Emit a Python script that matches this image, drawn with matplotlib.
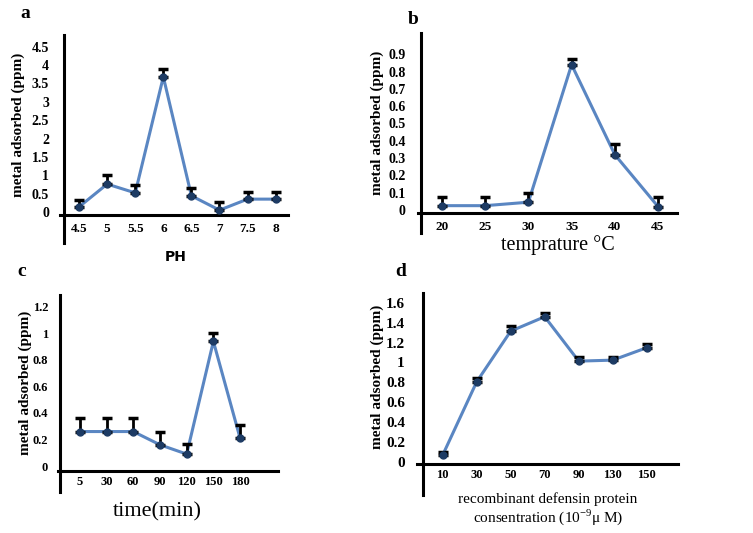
import matplotlib
matplotlib.use("Agg")
import matplotlib.pyplot as plt

plt.rcParams['font.family'] = 'Liberation Serif'
plt.rcParams['mathtext.fontset'] = 'custom'
plt.rcParams['mathtext.rm'] = 'Liberation Serif'

# panel a: pH
ph_labels = ["4.5", "5", "5.5", "6", "6.5", "7", "7.5", "8"]
ph_vals = [0.14, 0.76, 0.52, 3.68, 0.44, 0.05, 0.35, 0.35]
ph_err = [0.19, 0.25, 0.22, 0.22, 0.21, 0.22, 0.19, 0.19]
ph_yticks = [0, 0.5, 1, 1.5, 2, 2.5, 3, 3.5, 4, 4.5]
ph_ylabels = ["0", "0.5", "1", "1.5", "2", "2.5", "3", "3.5", "4", "4.5"]

# panel b: temperature
temp_x = [20, 25, 30, 35, 40, 45]
temp_vals = [0.025, 0.025, 0.045, 0.84, 0.32, 0.02]
temp_err = [0.05, 0.05, 0.055, 0.03, 0.06, 0.055]
temp_yticks = [0, 0.1, 0.2, 0.3, 0.4, 0.5, 0.6, 0.7, 0.8, 0.9]
temp_ylabels = ["0", "0.1", "0.2", "0.3", "0.4", "0.5", "0.6", "0.7", "0.8", "0.9"]

# panel c: time
time_labels = ["5", "30", "60", "90", "120", "150", "180"]
time_vals = [0.26, 0.26, 0.26, 0.16, 0.09, 0.94, 0.21]
time_err = [0.10, 0.10, 0.10, 0.10, 0.075, 0.06, 0.10]
time_yticks = [0, 0.2, 0.4, 0.6, 0.8, 1.0, 1.2]
time_ylabels = ["0", "0.2", "0.4", "0.6", "0.8", "1", "1.2"]

# panel d: protein concentration
conc_labels = ["10", "30", "50", "70", "90", "130", "150"]
conc_vals = [0.067, 0.805, 1.315, 1.46, 1.013, 1.023, 1.148]
conc_err = [0.03, 0.035, 0.05, 0.035, 0.04, 0.035, 0.035]
conc_yticks = [0, 0.2, 0.4, 0.6, 0.8, 1.0, 1.2, 1.4, 1.6]
conc_ylabels = ["0", "0.2", "0.4", "0.6", "0.8", "1", "1.2", "1.4", "1.6"]

W, H = 753, 533
fig = plt.figure(figsize=(W / 100, H / 100), dpi=100)
fig.patch.set_facecolor("white")

LINE = "#5a86c2"
MARK = "#1d3b64"


def px_axes(l, r, t, b):
    return fig.add_axes([l / W, 1 - b / H, (r - l) / W, (b - t) / H])


def panel(ax, x, y, err, xlim, ylim, spine_x, spine_y, ypad, xpad, yfs, xfs):
    ax.plot(x, y, color=LINE, lw=2.2, zorder=2)
    ax.errorbar(x, y, yerr=[[0] * len(err), err], fmt="none", ecolor="black",
                elinewidth=2, capsize=3.5, capthick=2.5, zorder=3)
    ax.plot(x, y, "o", color=MARK, ms=5, zorder=4)
    ax.set_xlim(*xlim)
    ax.set_ylim(*ylim)
    for s in ("top", "right"):
        ax.spines[s].set_visible(False)
    ax.spines["left"].set_position(("data", spine_x))
    ax.spines["bottom"].set_position(("data", spine_y))
    ax.spines["left"].set_linewidth(2.2)
    ax.spines["bottom"].set_linewidth(2.2)
    ax.tick_params(axis="y", length=0, pad=ypad, labelsize=yfs)
    ax.tick_params(axis="x", length=0, pad=xpad, labelsize=xfs)
    for lab in ax.get_xticklabels() + ax.get_yticklabels():
        lab.set_fontweight("bold")
    ax.patch.set_alpha(0)


def ftext(x, y, s, **kw):
    fig.text(x / W, 1 - y / H, s, ha="center", va="center", **kw)


# a
ax = px_axes(60, 288, 35, 243)
idx = list(range(len(ph_labels)))
ax.set_xticks(idx)
ax.set_xticklabels(ph_labels)
ax.set_yticks(ph_yticks)
ax.set_yticklabels(ph_ylabels)
panel(ax, idx, ph_vals, ph_err, (-0.68, 7.44), (-0.845, 4.82), -0.53, -0.08, 11, 6, 10, 9.5)
ftext(25, 13, "a", fontsize=14, fontweight="bold")
ftext(18, 125, "metal adsorbed (ppm)", rotation=90, fontsize=11, fontweight="bold")
ftext(176, 257, "PH", fontsize=10, fontweight="bold", family="DejaVu Sans")

# b
ax = px_axes(418, 677, 33, 233)
ax.set_xticks(temp_x)
ax.set_yticks(temp_yticks)
ax.set_yticklabels(temp_ylabels)
panel(ax, temp_x, temp_vals, temp_err, (17.22, 47.2), (-0.133, 1.023), 17.57, -0.017, 11, 6, 10, 9.5)
ftext(413, 19, "b", fontsize=14, fontweight="bold")
ftext(377, 123, "metal adsorbed (ppm)", rotation=90, fontsize=11, fontweight="bold")
ftext(558, 245, "temprature \u00b0C", fontsize=14.5)

# c
ax = px_axes(58, 278, 295, 492)
idx = list(range(len(time_labels)))
ax.set_xticks(idx)
ax.set_xticklabels(time_labels)
ax.set_yticks(time_yticks)
ax.set_yticklabels(time_ylabels)
panel(ax, idx, time_vals, time_err, (-0.82, 7.42), (-0.196, 1.29), -0.75, -0.038, 8.5, 3.5, 9, 9)
ftext(22, 272, "c", fontsize=14, fontweight="bold")
ftext(25, 383, "metal adsorbed (ppm)", rotation=90, fontsize=11, fontweight="bold")
ftext(157, 512, "time(min)", fontsize=16)

# d
ax = px_axes(417, 678, 293, 495)
idx = list(range(len(conc_labels)))
ax.set_xticks(idx)
ax.set_xticklabels(conc_labels)
ax.set_yticks(conc_yticks)
ax.set_yticklabels(conc_ylabels)
panel(ax, idx, conc_vals, conc_err, (-0.756, 6.92), (-0.335, 1.699), -0.58, -0.023, 13, 3.5, 11, 9)
ftext(401, 272, "d", fontsize=14, fontweight="bold")
ftext(377, 377, "metal adsorbed (ppm)", rotation=90, fontsize=11, fontweight="bold")
ftext(548, 499, "recombinant defensin protein", fontsize=11)
ftext(548, 517, "consentration (10$^{\\mathrm{-9}}$\u03bc M)", fontsize=11)

fig.savefig("out.png", dpi=100)
